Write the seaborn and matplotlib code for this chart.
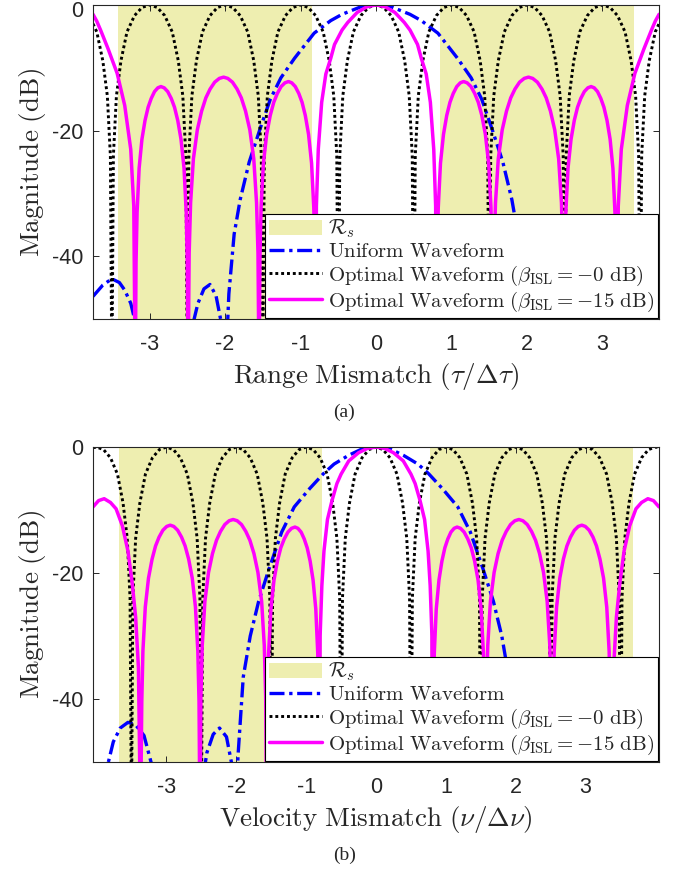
import matplotlib
matplotlib.use("Agg")
import matplotlib.pyplot as plt
import matplotlib.transforms as mtransforms
import pandas as pd
import seaborn as sns
from matplotlib.patches import Patch

# ---------------- data: (mismatch, magnitude in dB) ----------------
# (a) range mismatch
uniform_range = [
    (-3.75, -46.4), (-3.62, -44.6), (-3.50, -43.6), (-3.40, -44.2), (-3.33, -45.4),
    (-3.25, -47.5), (-3.19, -50.5), (-3.15, -60.0), (-2.47, -60.0), (-2.43, -51.0),
    (-2.36, -47.5), (-2.28, -45.2), (-2.20, -44.5), (-2.12, -46.3), (-2.06, -50.0),
    (-2.00, -60.0), (-1.95, -46.0), (-1.88, -36.5), (-1.80, -31.0), (-1.68, -25.0),
    (-1.53, -19.5), (-1.40, -15.0), (-1.26, -11.6), (-1.08, -8.5), (-0.82, -4.5),
    (-0.60, -2.5), (-0.45, -1.5), (-0.20, -0.3), (0.00, 0.0), (0.20, -0.3),
    (0.45, -1.5), (0.60, -2.5), (0.82, -4.5), (1.08, -8.5), (1.26, -11.6),
    (1.40, -15.0), (1.53, -19.5), (1.68, -25.0), (1.80, -31.0), (1.88, -36.5),
    (1.95, -46.0), (2.00, -60.0), (2.06, -50.0), (2.12, -46.3), (2.20, -44.5),
    (2.28, -45.2), (2.36, -47.5), (2.43, -51.0), (2.47, -60.0), (3.15, -60.0),
    (3.19, -50.5), (3.25, -47.5), (3.33, -45.4), (3.40, -44.2), (3.50, -43.6),
    (3.62, -44.6), (3.75, -46.4),
]

optimal0_range = [
    (-3.75, -3.0), (-3.70, -4.3), (-3.62, -8.9), (-3.56, -14.5), (-3.52, -24.0), (-3.50, -60.0),
    (-3.48, -24.0), (-3.44, -14.5), (-3.38, -8.9), (-3.30, -4.3), (-3.20, -1.7), (-3.10, -0.4), (-3.00, 0.0),
    (-2.90, -0.4), (-2.80, -1.7), (-2.70, -4.3), (-2.62, -8.9), (-2.56, -14.5), (-2.52, -24.0), (-2.50, -60.0),
    (-2.48, -24.0), (-2.44, -14.5), (-2.38, -8.9), (-2.30, -4.3), (-2.20, -1.7), (-2.10, -0.4), (-2.00, 0.0),
    (-1.90, -0.4), (-1.80, -1.7), (-1.70, -4.3), (-1.62, -8.9), (-1.56, -14.5), (-1.52, -24.0), (-1.50, -60.0),
    (-1.48, -24.0), (-1.44, -14.5), (-1.38, -8.9), (-1.30, -4.3), (-1.20, -1.7), (-1.10, -0.4), (-1.00, 0.0),
    (-0.90, -0.4), (-0.80, -1.7), (-0.70, -4.3), (-0.62, -8.9), (-0.56, -14.5), (-0.52, -24.0), (-0.50, -60.0),
    (-0.48, -24.0), (-0.44, -14.5), (-0.38, -8.9), (-0.30, -4.3), (-0.20, -1.7), (-0.10, -0.4), (0.00, 0.0),
    (0.10, -0.4), (0.20, -1.7), (0.30, -4.3), (0.38, -8.9), (0.44, -14.5), (0.48, -24.0), (0.50, -60.0),
    (0.52, -24.0), (0.56, -14.5), (0.62, -8.9), (0.70, -4.3), (0.80, -1.7), (0.90, -0.4), (1.00, 0.0),
    (1.10, -0.4), (1.20, -1.7), (1.30, -4.3), (1.38, -8.9), (1.44, -14.5), (1.48, -24.0), (1.50, -60.0),
    (1.52, -24.0), (1.56, -14.5), (1.62, -8.9), (1.70, -4.3), (1.80, -1.7), (1.90, -0.4), (2.00, 0.0),
    (2.10, -0.4), (2.20, -1.7), (2.30, -4.3), (2.38, -8.9), (2.44, -14.5), (2.48, -24.0), (2.50, -60.0),
    (2.52, -24.0), (2.56, -14.5), (2.62, -8.9), (2.70, -4.3), (2.80, -1.7), (2.90, -0.4), (3.00, 0.0),
    (3.10, -0.4), (3.20, -1.7), (3.30, -4.3), (3.38, -8.9), (3.44, -14.5), (3.48, -24.0), (3.50, -60.0),
    (3.52, -24.0), (3.56, -14.5), (3.62, -8.9), (3.70, -4.3), (3.75, -3.0),
]

optimal15_range = [
    (-3.75, -1.5), (-3.70, -2.6), (-3.65, -4.0), (-3.55, -7.0), (-3.43, -10.9), (-3.33, -16.0),
    (-3.25, -23.0), (-3.21, -32.0), (-3.19, -60.0),
    (-3.180, -41.0), (-3.166, -33.0), (-3.139, -26.0), (-3.102, -21.4), (-3.061, -18.4),
    (-3.020, -16.3), (-2.979, -14.9), (-2.935, -13.8), (-2.891, -13.2),
    (-2.850, -13.0),
    (-2.807, -13.2), (-2.760, -13.8), (-2.713, -14.9), (-2.670, -16.3), (-2.627, -18.4),
    (-2.584, -21.4), (-2.544, -26.0), (-2.515, -33.0), (-2.501, -41.0), (-2.490, -60.0),
    (-2.476, -39.5), (-2.457, -31.5), (-2.420, -24.5), (-2.368, -19.9), (-2.311, -16.9),
    (-2.255, -14.8), (-2.199, -13.4), (-2.138, -12.3), (-2.076, -11.7),
    (-2.020, -11.5),
    (-1.964, -11.7), (-1.902, -12.3), (-1.841, -13.4), (-1.785, -14.8), (-1.729, -16.9),
    (-1.672, -19.9), (-1.620, -24.5), (-1.583, -31.5), (-1.564, -39.5), (-1.550, -60.0),
    (-1.538, -40.2), (-1.523, -32.2), (-1.492, -25.2), (-1.449, -20.6), (-1.402, -17.6),
    (-1.355, -15.5), (-1.308, -14.1), (-1.258, -13.0), (-1.207, -12.4),
    (-1.160, -12.2),
    (-1.117, -12.4), (-1.070, -13.0), (-1.023, -14.1), (-0.980, -15.5), (-0.937, -17.6),
    (-0.894, -20.6), (-0.854, -25.2), (-0.825, -32.2), (-0.811, -40.2), (-0.800, -60.0),
    (-0.79, -32.0), (-0.765, -23.0), (-0.72, -15.5), (-0.665, -11.0), (-0.60, -8.5), (-0.55, -6.3),
    (-0.45, -4.0), (-0.375, -2.8), (-0.25, -1.2), (-0.12, -0.3),
    (0.00, 0.0),
    (0.12, -0.3), (0.25, -1.2), (0.375, -2.8), (0.45, -4.0), (0.55, -6.3), (0.60, -8.5),
    (0.665, -11.0), (0.72, -15.5), (0.765, -23.0), (0.79, -32.0), (0.800, -60.0),
    (0.811, -40.2), (0.825, -32.2), (0.854, -25.2), (0.894, -20.6), (0.937, -17.6),
    (0.980, -15.5), (1.023, -14.1), (1.070, -13.0), (1.117, -12.4),
    (1.160, -12.2),
    (1.207, -12.4), (1.258, -13.0), (1.308, -14.1), (1.355, -15.5), (1.402, -17.6),
    (1.449, -20.6), (1.492, -25.2), (1.523, -32.2), (1.538, -40.2), (1.550, -60.0),
    (1.564, -39.5), (1.583, -31.5), (1.620, -24.5), (1.672, -19.9), (1.729, -16.9),
    (1.785, -14.8), (1.841, -13.4), (1.902, -12.3), (1.964, -11.7),
    (2.020, -11.5),
    (2.076, -11.7), (2.138, -12.3), (2.199, -13.4), (2.255, -14.8), (2.311, -16.9),
    (2.368, -19.9), (2.420, -24.5), (2.457, -31.5), (2.476, -39.5), (2.490, -60.0),
    (2.501, -41.0), (2.515, -33.0), (2.544, -26.0), (2.584, -21.4), (2.627, -18.4),
    (2.670, -16.3), (2.713, -14.9), (2.760, -13.8), (2.807, -13.2),
    (2.850, -13.0),
    (2.891, -13.2), (2.935, -13.8), (2.979, -14.9), (3.020, -16.3), (3.061, -18.4),
    (3.102, -21.4), (3.139, -26.0), (3.166, -33.0), (3.180, -41.0), (3.19, -60.0),
    (3.21, -32.0), (3.25, -23.0), (3.33, -16.0), (3.43, -10.9), (3.55, -7.0), (3.65, -4.0),
    (3.70, -2.6), (3.75, -1.5),
]

# (b) velocity mismatch
uniform_velocity = [
    (-4.05, -60.0), (-3.88, -60.0), (-3.83, -50.0), (-3.76, -46.8), (-3.66, -44.6),
    (-3.55, -43.7), (-3.44, -44.1), (-3.32, -45.8), (-3.22, -50.0), (-3.17, -60.0),
    (-2.50, -60.0), (-2.47, -52.0), (-2.42, -48.5), (-2.33, -45.6), (-2.24, -44.6),
    (-2.14, -46.0), (-2.07, -50.0), (-2.01, -60.0), (-1.975, -49.0), (-1.90, -36.5),
    (-1.80, -30.0), (-1.68, -24.5), (-1.53, -19.3), (-1.35, -13.5), (-1.17, -9.5),
    (-0.95, -6.6), (-0.75, -4.2), (-0.60, -2.7), (-0.39, -1.3), (-0.20, -0.3),
    (0.00, 0.0), (0.20, -0.3), (0.39, -1.3), (0.60, -2.7), (0.75, -4.2),
    (0.95, -6.6), (1.17, -9.5), (1.35, -13.5), (1.53, -19.3), (1.68, -24.5),
    (1.80, -30.0), (1.90, -36.5), (1.975, -49.0), (2.01, -60.0), (2.07, -50.0),
    (2.14, -46.0), (2.24, -44.6), (2.33, -45.6), (2.42, -48.5), (2.47, -52.0),
    (2.50, -60.0), (3.17, -60.0), (3.22, -50.0), (3.32, -45.8), (3.44, -44.1),
    (3.55, -43.7), (3.66, -44.6), (3.76, -46.8), (3.83, -50.0), (3.88, -60.0),
    (4.05, -60.0),
]

optimal0_velocity = [
    (-4.05, -0.1), (-4.00, 0.0),
    (-3.90, -0.4), (-3.80, -1.7), (-3.70, -4.3), (-3.62, -8.9), (-3.56, -14.5), (-3.52, -24.0), (-3.50, -60.0),
    (-3.48, -24.0), (-3.44, -14.5), (-3.38, -8.9), (-3.30, -4.3), (-3.20, -1.7), (-3.10, -0.4), (-3.00, 0.0),
    (-2.90, -0.4), (-2.80, -1.7), (-2.70, -4.3), (-2.62, -8.9), (-2.56, -14.5), (-2.52, -24.0), (-2.50, -60.0),
    (-2.48, -24.0), (-2.44, -14.5), (-2.38, -8.9), (-2.30, -4.3), (-2.20, -1.7), (-2.10, -0.4), (-2.00, 0.0),
    (-1.90, -0.4), (-1.80, -1.7), (-1.70, -4.3), (-1.62, -8.9), (-1.56, -14.5), (-1.52, -24.0), (-1.50, -60.0),
    (-1.48, -24.0), (-1.44, -14.5), (-1.38, -8.9), (-1.30, -4.3), (-1.20, -1.7), (-1.10, -0.4), (-1.00, 0.0),
    (-0.90, -0.4), (-0.80, -1.7), (-0.70, -4.3), (-0.62, -8.9), (-0.56, -14.5), (-0.52, -24.0), (-0.50, -60.0),
    (-0.48, -24.0), (-0.44, -14.5), (-0.38, -8.9), (-0.30, -4.3), (-0.20, -1.7), (-0.10, -0.4), (0.00, 0.0),
    (0.10, -0.4), (0.20, -1.7), (0.30, -4.3), (0.38, -8.9), (0.44, -14.5), (0.48, -24.0), (0.50, -60.0),
    (0.52, -24.0), (0.56, -14.5), (0.62, -8.9), (0.70, -4.3), (0.80, -1.7), (0.90, -0.4), (1.00, 0.0),
    (1.10, -0.4), (1.20, -1.7), (1.30, -4.3), (1.38, -8.9), (1.44, -14.5), (1.48, -24.0), (1.50, -60.0),
    (1.52, -24.0), (1.56, -14.5), (1.62, -8.9), (1.70, -4.3), (1.80, -1.7), (1.90, -0.4), (2.00, 0.0),
    (2.10, -0.4), (2.20, -1.7), (2.30, -4.3), (2.38, -8.9), (2.44, -14.5), (2.48, -24.0), (2.50, -60.0),
    (2.52, -24.0), (2.56, -14.5), (2.62, -8.9), (2.70, -4.3), (2.80, -1.7), (2.90, -0.4), (3.00, 0.0),
    (3.10, -0.4), (3.20, -1.7), (3.30, -4.3), (3.38, -8.9), (3.44, -14.5), (3.48, -24.0), (3.50, -60.0),
    (3.52, -24.0), (3.56, -14.5), (3.62, -8.9), (3.70, -4.3), (3.80, -1.7), (3.90, -0.4), (4.00, 0.0),
    (4.05, -0.1),
]

optimal15_velocity = [
    (-4.05, -9.5), (-3.97, -8.5), (-3.89, -8.2), (-3.80, -8.8), (-3.72, -9.8), (-3.63, -12.5),
    (-3.55, -16.5), (-3.49, -21.5), (-3.44, -27.0), (-3.40, -35.0), (-3.37, -60.0),
    (-3.352, -40.4), (-3.336, -32.4), (-3.302, -25.4), (-3.256, -20.8), (-3.205, -17.8),
    (-3.155, -15.7), (-3.105, -14.3), (-3.050, -13.2), (-2.995, -12.6),
    (-2.945, -12.4),
    (-2.894, -12.6), (-2.839, -13.2), (-2.783, -14.3), (-2.732, -15.7), (-2.681, -17.8),
    (-2.630, -20.8), (-2.584, -25.4), (-2.550, -32.4), (-2.533, -40.4), (-2.520, -60.0),
    (-2.506, -39.5), (-2.487, -31.5), (-2.449, -24.5), (-2.397, -19.9), (-2.340, -16.9),
    (-2.283, -14.8), (-2.226, -13.4), (-2.164, -12.3), (-2.102, -11.7),
    (-2.045, -11.5),
    (-1.987, -11.7), (-1.925, -12.3), (-1.863, -13.4), (-1.805, -14.8), (-1.747, -16.9),
    (-1.690, -19.9), (-1.637, -24.5), (-1.599, -31.5), (-1.579, -39.5), (-1.565, -60.0),
    (-1.553, -40.7), (-1.537, -32.7), (-1.504, -25.7), (-1.460, -21.1), (-1.411, -18.1),
    (-1.363, -16.0), (-1.314, -14.6), (-1.261, -13.5), (-1.209, -12.9),
    (-1.160, -12.7),
    (-1.118, -12.9), (-1.072, -13.5), (-1.027, -14.6), (-0.985, -16.0), (-0.943, -18.1),
    (-0.901, -21.1), (-0.862, -25.7), (-0.834, -32.7), (-0.820, -40.7), (-0.810, -60.0),
    (-0.80, -30.0), (-0.775, -22.0), (-0.745, -16.5), (-0.695, -11.5), (-0.63, -8.5), (-0.56, -5.8),
    (-0.50, -4.3), (-0.39, -2.2), (-0.25, -0.9), (-0.12, -0.2),
    (0.00, 0.0),
    (0.12, -0.2), (0.25, -0.9), (0.39, -2.2), (0.50, -4.3), (0.56, -5.8), (0.63, -8.5),
    (0.695, -11.5), (0.745, -16.5), (0.775, -22.0), (0.80, -30.0), (0.810, -60.0),
    (0.820, -40.7), (0.834, -32.7), (0.862, -25.7), (0.901, -21.1), (0.943, -18.1),
    (0.985, -16.0), (1.027, -14.6), (1.072, -13.5), (1.118, -12.9),
    (1.160, -12.7),
    (1.209, -12.9), (1.261, -13.5), (1.314, -14.6), (1.363, -16.0), (1.411, -18.1),
    (1.460, -21.1), (1.504, -25.7), (1.537, -32.7), (1.553, -40.7), (1.565, -60.0),
    (1.579, -39.5), (1.599, -31.5), (1.637, -24.5), (1.690, -19.9), (1.747, -16.9),
    (1.805, -14.8), (1.863, -13.4), (1.925, -12.3), (1.987, -11.7),
    (2.045, -11.5),
    (2.102, -11.7), (2.164, -12.3), (2.226, -13.4), (2.283, -14.8), (2.340, -16.9),
    (2.397, -19.9), (2.449, -24.5), (2.487, -31.5), (2.506, -39.5), (2.520, -60.0),
    (2.533, -40.4), (2.550, -32.4), (2.584, -25.4), (2.630, -20.8), (2.681, -17.8),
    (2.732, -15.7), (2.783, -14.3), (2.839, -13.2), (2.894, -12.6),
    (2.945, -12.4),
    (2.995, -12.6), (3.050, -13.2), (3.105, -14.3), (3.155, -15.7), (3.205, -17.8),
    (3.256, -20.8), (3.302, -25.4), (3.336, -32.4), (3.352, -40.4), (3.37, -60.0),
    (3.40, -35.0), (3.44, -27.0), (3.49, -21.5), (3.55, -16.5), (3.63, -12.5), (3.72, -9.8),
    (3.80, -8.8), (3.89, -8.2), (3.97, -8.5), (4.05, -9.5),
]

# Sidelobe region R_s (start, end) for each panel
region_range = [(-3.42, -0.85), (0.85, 3.42)]
region_velocity = [(-3.68, -0.775), (0.775, 3.68)]

xlim_range = (-3.75, 3.75)
xlim_velocity = (-4.05, 4.05)
x_ticks = [-3, -2, -1, 0, 1, 2, 3]
y_ticks = [-40, -20, 0]

labels = [
    r"$\mathcal{R}_s$",
    r"$\mathrm{Uniform\ Waveform}$",
    r"$\mathrm{Optimal\ Waveform}\ (\beta_{\mathrm{ISL}}=-0\ \mathrm{dB})$",
    r"$\mathrm{Optimal\ Waveform}\ (\beta_{\mathrm{ISL}}=-15\ \mathrm{dB})$",
]

# ---------------- style ----------------
sns.set_theme(style="ticks")
plt.rcParams.update({
    "font.family": ["Liberation Sans", "DejaVu Sans"],
    "mathtext.fontset": "cm",
    "axes.unicode_minus": False,
    "axes.edgecolor": "#262626",
    "axes.linewidth": 0.8,
    "xtick.direction": "in",
    "ytick.direction": "in",
    "xtick.top": True,
    "ytick.right": True,
    "xtick.major.size": 4,
    "ytick.major.size": 4,
    "xtick.major.width": 0.7,
    "ytick.major.width": 0.7,
    "xtick.major.pad": 11,
    "ytick.major.pad": 7,
    "xtick.color": "#262626",
    "ytick.color": "#262626",
    "xtick.labelsize": 15.5,
    "ytick.labelsize": 15.5,
})

SHADE = "#EEEEB0"
BLUE = "#0000FF"
MAGENTA = "#FF00FF"
DASHDOT = (0, (4.5, 1.4, 1.0, 1.4))
DOTTED = (0, (1.0, 1.0))


def frame(pairs):
    return pd.DataFrame(pairs, columns=["x", "dB"])


def panel(ax, uniform, opt0, opt15, regions, xlim, xlabel):
    for a, b in regions:
        ax.axvspan(a, b, color=SHADE, lw=0, zorder=0)
    sns.lineplot(data=frame(uniform), x="x", y="dB", ax=ax, color=BLUE, lw=2.4,
                 linestyle=DASHDOT, sort=False, estimator=None)
    sns.lineplot(data=frame(opt0), x="x", y="dB", ax=ax, color="black", lw=2.1,
                 linestyle=DOTTED, sort=False, estimator=None)
    sns.lineplot(data=frame(opt15), x="x", y="dB", ax=ax, color=MAGENTA, lw=2.5,
                 linestyle="-", sort=False, estimator=None)
    ax.set_xlim(*xlim)
    ax.set_ylim(-50, 0)
    ax.set_xticks(x_ticks)
    ax.set_xticklabels([str(t) for t in x_ticks])
    ax.set_yticks(y_ticks)
    ax.set_yticklabels([str(t) for t in y_ticks])
    ax.set_xlabel(xlabel, fontsize=19.5, labelpad=4, color="#262626")
    ax.set_ylabel(r"$\mathrm{Magnitude\ (dB)}$", fontsize=19.5, labelpad=3, color="#262626")
    for s in ax.spines.values():
        s.set_visible(True)
    handles = [
        Patch(facecolor=SHADE, edgecolor="none"),
        plt.Line2D([], [], color=BLUE, lw=2.4, linestyle=DASHDOT),
        plt.Line2D([], [], color="black", lw=2.1, linestyle=DOTTED),
        plt.Line2D([], [], color=MAGENTA, lw=2.5),
    ]
    leg = ax.legend(handles, labels, loc="lower right", fontsize=15, frameon=True,
                    fancybox=False, framealpha=1, edgecolor="black",
                    borderaxespad=0.05, handlelength=2.55, handletextpad=0.25,
                    labelspacing=0.1, borderpad=0.2)
    leg.get_frame().set_linewidth(0.8)


fig = plt.figure(figsize=(6.89, 8.74), dpi=100)
ax_a = fig.add_axes([0.135, 0.635, 0.8215, 0.3594])
ax_b = fig.add_axes([0.135, 0.1281, 0.8215, 0.3604])

panel(ax_a, uniform_range, optimal0_range, optimal15_range, region_range, xlim_range,
      r"$\mathrm{Range\ Mismatch}\ (\tau/\Delta\tau)$")
panel(ax_b, uniform_velocity, optimal0_velocity, optimal15_velocity, region_velocity,
      xlim_velocity, r"$\mathrm{Velocity\ Mismatch}\ (\nu/\Delta\nu)$")

# keep the topmost "0" label of panel (a) inside the figure
nudge = mtransforms.ScaledTranslation(0, -3 / 72, fig.dpi_scale_trans)
for lab in ax_a.get_yticklabels():
    if lab.get_text() == "0":
        lab.set_transform(lab.get_transform() + nudge)

fig.text(0.5, 1 - 412 / 874, "(a)", ha="center", va="center",
         family=["Liberation Serif", "DejaVu Serif"], fontsize=14)
fig.text(0.5, 1 - 855 / 874, "(b)", ha="center", va="center",
         family=["Liberation Serif", "DejaVu Serif"], fontsize=14)

fig.savefig("out.png", dpi=100)
